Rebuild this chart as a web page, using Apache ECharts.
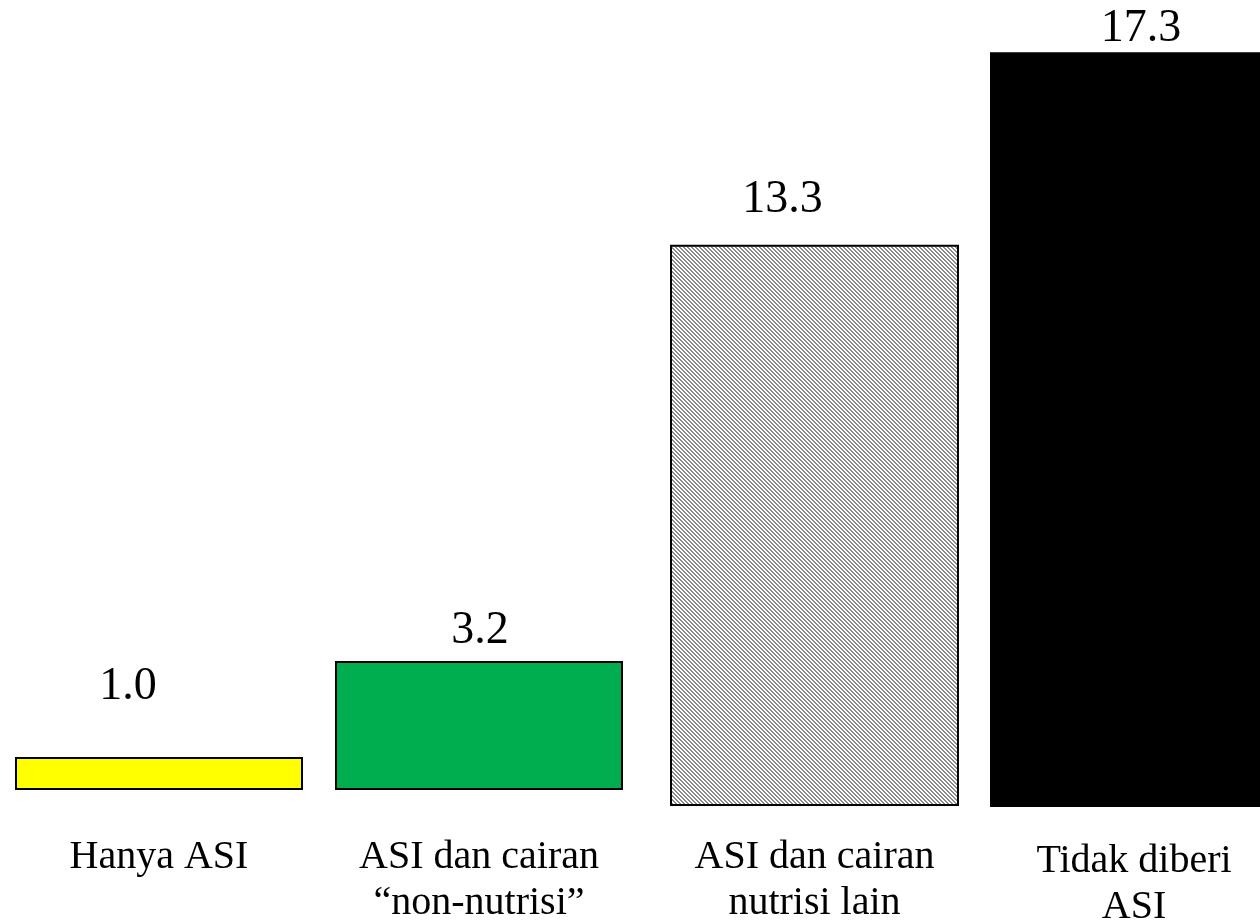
<!DOCTYPE html>
<html>
<head>
<meta charset="utf-8">
<script src="https://cdn.jsdelivr.net/npm/echarts@6/dist/echarts.min.js"></script>
<style>
  html, body { margin: 0; padding: 0; background: #ffffff; }
  #chart { width: 1260px; height: 923px; }
</style>
</head>
<body>
<div id="chart"></div>
<script>
// Feeding categories and relative risk values
const categories = [
  'Hanya ASI',
  'ASI dan cairan\n\u201Cnon-nutrisi\u201D',
  'ASI dan cairan\nnutrisi lain',
  'Tidak diberi\nASI'
];
const values = [1.0, 3.2, 13.3, 17.3];

// Per-panel layout: each bar sits in its own small grid
const panelLeft   = [15, 335, 670, 990];
const panelWidth  = [288, 288, 289, 288];
const panelBase   = [790, 790, 806, 807];
const panelMax    = [24, 19.6, 19.1, 18.5];
const labelOffset = [[-31, -42], [1, -2], [-32, -17], [7, 5]];
const catMargin   = [44, 44, 28, 31];

const CHART_H = 923;
const SERIF = '"Liberation Serif", "DejaVu Serif", serif';

// Fine diagonal hatch for the third bar
function hatchPattern() {
  const c = document.createElement('canvas');
  c.width = 4; c.height = 4;
  const ctx = c.getContext('2d');
  const img = ctx.createImageData(4, 4);
  for (let y = 0; y < 4; y++) {
    for (let x = 0; x < 4; x++) {
      const gray = ((x - y + 8) % 4) < 2;
      const v = gray ? 0x8a : 0xff;
      const i = (y * 4 + x) * 4;
      img.data[i] = v; img.data[i + 1] = v; img.data[i + 2] = v; img.data[i + 3] = 255;
    }
  }
  ctx.putImageData(img, 0, 0);
  return { image: c, repeat: 'repeat' };
}

const fills = ['#ffff00', '#00ad4f', hatchPattern(), '#000000'];
const borders = [2, 2, 2, 0];

const grids = [], xAxes = [], yAxes = [], series = [];
values.forEach((v, i) => {
  grids.push({
    left: panelLeft[i],
    width: panelWidth[i],
    top: 0,
    bottom: CHART_H - panelBase[i],
    containLabel: false,
    outerBoundsMode: 'none'
  });
  xAxes.push({
    type: 'category',
    gridIndex: i,
    data: [categories[i]],
    axisLine: { show: false },
    axisTick: { show: false },
    splitLine: { show: false },
    axisLabel: {
      margin: catMargin[i],
      fontFamily: SERIF,
      fontSize: 40,
      lineHeight: 46,
      color: '#000000',
      align: 'center'
    }
  });
  yAxes.push({
    type: 'value',
    gridIndex: i,
    min: 0,
    max: panelMax[i],
    show: false,
    splitLine: { show: false }
  });
  series.push({
    type: 'bar',
    xAxisIndex: i,
    yAxisIndex: i,
    barWidth: '100%',
    data: [v],
    itemStyle: {
      color: fills[i],
      borderColor: '#000000',
      borderWidth: borders[i]
    },
    label: {
      show: true,
      position: 'top',
      distance: 5,
      offset: labelOffset[i],
      formatter: (p) => p.value.toFixed(1),
      fontFamily: SERIF,
      fontSize: 46,
      color: '#000000'
    }
  });
});

const chart = echarts.init(document.getElementById('chart'), null, { renderer: 'canvas' });
chart.setOption({
  animation: false,
  backgroundColor: '#ffffff',
  grid: grids,
  xAxis: xAxes,
  yAxis: yAxes,
  series: series
});
</script>
</body>
</html>
